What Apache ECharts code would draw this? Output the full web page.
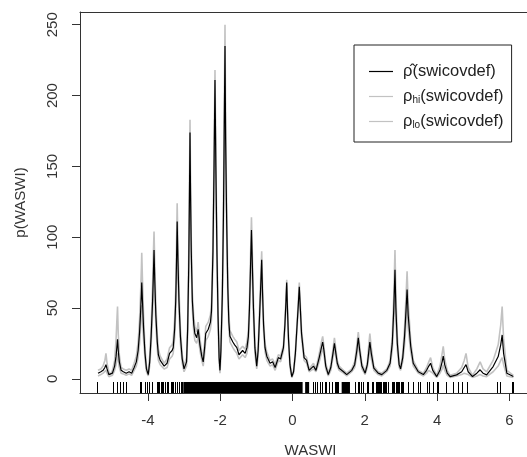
<!DOCTYPE html>
<html><head><meta charset="utf-8">
<script src="https://cdn.jsdelivr.net/npm/echarts@6/dist/echarts.min.js"></script>
<style>html,body{margin:0;padding:0;background:#fff}#c{width:527px;height:457px}</style>
</head><body><div id="c"></div>
<script>
// WASWI grid positions of the estimated density curve
const waswiX = [
 -5.38,-5.30,-5.24,-5.19,-5.16,-5.13,-5.08,-5.04,-4.98,-4.92,
 -4.88,-4.86,-4.84,-4.82,-4.79,-4.74,-4.68,-4.60,-4.52,-4.45,
 -4.38,-4.32,-4.27,-4.23,-4.20,-4.18,-4.17,-4.15,-4.12,-4.08,
 -4.04,-3.99,-3.95,-3.91,-3.87,-3.85,-3.83,-3.81,-3.78,-3.74,
 -3.71,-3.66,-3.62,-3.55,-3.50,-3.47,-3.40,-3.33,-3.30,-3.26,
 -3.23,-3.21,-3.19,-3.17,-3.14,-3.10,-3.05,-3.00,-2.97,-2.93,
 -2.90,-2.87,-2.85,-2.835,-2.82,-2.80,-2.77,-2.73,-2.70,-2.65,
 -2.61,-2.56,-2.51,-2.47,-2.43,-2.40,-2.33,-2.27,-2.24,-2.20,
 -2.17,-2.144,-2.12,-2.09,-2.06,-2.03,-2.006,-1.98,-1.94,-1.91,
 -1.89,-1.867,-1.85,-1.82,-1.79,-1.76,-1.73,-1.65,-1.60,-1.54,
 -1.48,-1.38,-1.31,-1.26,-1.22,-1.19,-1.16,-1.135,-1.11,-1.08,
 -1.04,-0.99,-0.95,-0.91,-0.88,-0.852,-0.83,-0.80,-0.76,-0.71,
 -0.62,-0.55,-0.48,-0.39,-0.33,-0.25,-0.21,-0.18,-0.16,-0.14,
 -0.11,-0.07,-0.02,0.03,0.08,0.12,0.16,0.188,0.22,0.25,
 0.32,0.39,0.46,0.58,0.65,0.74,0.80,0.835,0.87,0.92,
 0.99,1.06,1.12,1.16,1.20,1.24,1.29,1.41,1.50,1.64,
 1.72,1.78,1.82,1.86,1.92,2.01,2.07,2.11,2.14,2.18,
 2.25,2.37,2.47,2.61,2.70,2.76,2.80,2.835,2.86,2.90,
 2.95,2.99,3.05,3.10,3.14,3.17,3.20,3.27,3.34,3.48,
 3.62,3.71,3.77,3.82,3.88,3.99,4.08,4.14,4.17,4.21,
 4.28,4.36,4.54,4.68,4.75,4.80,4.86,4.98,5.10,5.19,
 5.27,5.37,5.55,5.69,5.76,5.80,5.84,5.93,6.11
];
// rho-hat (estimate)
const rhoHat = [
 4,5,6,8,10,7,3,2,4,9,
 16,22,28,20,12,6,5,4,5,4,
 8,12,20,33,48,60,68,55,36,18,
 7,3,12,30,55,72,91,70,45,26,
 17,13,12,9,9,11,18,20,22,35,
 55,80,111,85,55,30,14,7,6,12,
 35,80,130,174,130,90,55,38,32,29,
 35,24,16,12,22,32,35,40,48,90,
 150,211,150,90,45,15,6,20,60,115,
 170,235,170,110,65,40,30,26,24,22,
 17,20,18,22,30,50,80,105,80,50,
 22,9,20,45,65,84,62,38,22,16,
 11,12,8,15,14,22,38,55,68,50,
 28,10,1.5,5,18,35,52,65,48,32,
 15,13,6,9,6,15,22,26,20,9,
 3,8,18,25,18,11,7.5,5,3,6,
 10,20,29,20,9,4,10,19,26,18,
 7.5,4,3,6,11,25,48,77,50,25,
 10,7,15,30,48,63,45,23,11,5,
 3,6,9,11,6,1.6,6,12,16,10,
 4,1.6,2.8,5,8,10,5,1.6,4,6.4,
 4,2.8,8.7,15.7,24,31,18,4,1.6
];
// rho-hi (upper)
const rhoHi = [
 6,7,9,13,18,11,5,3,6,13,
 28,40,51,32,17,8,7,6,7,6,
 11,16,26,42,62,78,89,70,45,22,
 9,4,16,37,66,87,104,82,53,31,
 21,16,15,11,11,14,22,24,27,42,
 63,91,124,96,63,35,17,9,8,15,
 40,88,140,183,140,98,61,43,37,33,
 40,28,19,15,26,37,40,45,54,97,
 157,218,157,96,50,18,8,24,66,124,
 182,250,182,119,71,45,34,30,28,26,
 20,23,21,26,35,56,88,114,88,56,
 26,11,24,50,71,90,68,42,25,19,
 13,14,10,17,16,24,40,57,70,52,
 30,12,2.5,6,20,37,55,68,51,35,
 17,15,7,11,7,18,26,30,23,11,
 4,10,21,29,21,13,9,6,4,7,
 12,24,33,23,11,5,12,24,32,22,
 9,5,4,7,13,30,57,91,60,30,
 12,8,18,36,58,76,54,27,13,6,
 4,8,12,15,8,2.5,9,18,23,14,
 6,2.5,4,8,13,18,8,2.5,7,12,
 7,5,13,24,38,51,28,6,2.5
];
// rho-lo (lower)
const rhoLo = [
 2,3,4,5,6,4,1.5,1,2.5,6,
 10,14,18,13,8,4,3.5,2.5,3.5,2.5,
 6,9,15,25,37,47,52,42,28,14,
 5,2,9,24,46,60,80,60,38,21,
 13,10,9,7,7,8,14,16,18,29,
 47,70,98,74,47,25,11,5,4,9,
 30,72,120,165,120,82,49,33,27,25,
 30,20,13,9,18,27,30,35,42,83,
 143,204,143,84,40,12,4,16,54,106,
 158,220,158,101,59,35,26,22,20,18,
 14,17,15,18,25,44,72,96,72,44,
 18,7,16,40,59,78,56,34,19,13,
 9,10,6,13,12,20,36,53,66,48,
 26,8,0.8,4,16,33,49,62,45,29,
 13,11,5,7,5,12,18,22,17,7,
 2,6,15,21,15,9,6,4,2,5,
 8,16,25,17,7,3,8,15,21,14,
 6,3,2,5,9,20,40,64,41,20,
 8,6,12,24,39,51,36,19,9,4,
 2,4,6,7,4,1,4,7,10,6,
 2.5,1,2,3,4,4,3,1,2,3,
 2,1.5,5,9,13,15,10,2,1
];
// rug: individual observations and fully-covered stretches
const rugTicks = [
 -5.40,-4.97,-4.86,-4.77,-4.68,-4.61,-4.22,-4.19,-4.08,-4.02,-3.96,-3.90,
 -3.76,-3.72,-3.68,-3.65,-3.61,-3.57,-3.52,-3.48,-3.43,-3.37,-3.33,-3.30,
 -3.25,-3.19,-3.13,-3.09,-3.06,
 0.56,0.62,0.69,0.76,0.81,0.90,0.94,1.02,1.08,1.18,1.20,1.22,1.24,1.27,
 1.73,1.82,1.85,1.89,1.96,2.05,2.10,2.19,2.24,
 2.31,2.34,2.37,2.40,2.43,2.46,2.49,2.52,2.56,2.60,2.65,2.74,
 2.79,2.82,2.85,2.88,2.92,2.96,3.00,3.04,3.07,
 3.20,3.32,3.46,3.53,3.71,3.78,3.88,3.99,4.03,4.26,4.45,4.59,4.68,4.82,
 5.65,5.74,6.06,6.11
];
const rugBlocks = [[-3.02, 0.28], [0.35, 0.46], [1.36, 1.59]];
const xTicks = [-4, -2, 0, 2, 4, 6];
const yTicks = [0, 50, 100, 150, 200, 250];

const FONT = 'Liberation Sans, Arial, sans-serif';
const TXT = '#333';
const GRAY = '#c2c2c2';
function pairs(xs, ys) { return xs.map((x, i) => [x, ys[i]]); }

const chart = echarts.init(document.getElementById('c'), null, {renderer: 'canvas'});
const X_MIN = -5.878, X_MAX = 6.487, Y_MIN = -10, Y_MAX = 259;
const LINE_ICON = 'path://M0,0H24V1.2H0Z';

chart.setOption({
  animation: false,
  backgroundColor: '#fff',
  textStyle: {fontFamily: FONT},
  grid: {left: 80, right: 0, top: 12, bottom: 64, containLabel: false, outerBoundsMode: 'none'},
  xAxis: [{
    type: 'value', min: X_MIN, max: X_MAX, position: 'bottom',
    axisLine: {show: true, onZero: false, lineStyle: {color: '#333', width: 1}},
    axisTick: {show: true, length: 8, customValues: xTicks, lineStyle: {color: '#333'}},
    axisLabel: {show: true, customValues: xTicks, margin: 20, fontSize: 15, color: TXT, fontFamily: FONT,
      formatter: v => (v < 0 ? '-' + Math.abs(v) : String(v))},
    splitLine: {show: false},
    name: 'WASWI', nameLocation: 'middle', nameGap: 50,
    nameTextStyle: {fontSize: 15, color: TXT, fontFamily: FONT, padding: [0, 0, 0, 14]}
  }, {
    type: 'value', min: X_MIN, max: X_MAX, position: 'top',
    axisLine: {show: true, onZero: false, lineStyle: {color: '#333', width: 1}},
    axisTick: {show: false}, axisLabel: {show: false}, splitLine: {show: false}
  }],
  yAxis: {
    type: 'value', min: Y_MIN, max: Y_MAX,
    axisLine: {show: true, onZero: false, lineStyle: {color: '#333', width: 1}},
    axisTick: {show: true, length: 8, customValues: yTicks, lineStyle: {color: '#333'}},
    axisLabel: {show: true, customValues: yTicks, rotate: 90, margin: 20, fontSize: 15, color: TXT, fontFamily: FONT},
    splitLine: {show: false},
    name: 'p(WASWI)', nameLocation: 'middle', nameGap: 52,
    nameTextStyle: {fontSize: 15, color: TXT, fontFamily: FONT}
  },
  legend: {
    show: true, orient: 'vertical', left: 354, top: 45,
    data: [
      {name: 'est', icon: LINE_ICON, itemStyle: {color: '#000'}},
      {name: 'hi', icon: LINE_ICON, itemStyle: {color: GRAY}},
      {name: 'lo', icon: LINE_ICON, itemStyle: {color: GRAY}}
    ],
    selectedMode: false,
    borderColor: '#222', borderWidth: 1, borderRadius: 0,
    padding: [18, 8, 12, 15],
    itemWidth: 24, itemHeight: 14, itemGap: 8,
    formatter: n => n === 'est' ? '{r|ρ\u0302}{t|(swicovdef)}' : (n === 'hi' ? '{r|ρ}{s|hi}{t|(swicovdef)}' : '{r|ρ}{s|lo}{t|(swicovdef)}'),
    textStyle: {
      color: '#222', fontFamily: FONT, fontSize: 16.5, padding: [0, 0, 0, 5],
      rich: {
        r: {fontSize: 16.5, fontFamily: FONT, color: '#222'},
        t: {fontSize: 16.5, fontFamily: FONT, color: '#222'},
        s: {fontSize: 10, fontFamily: FONT, color: '#222', verticalAlign: 'bottom'}
      }
    }
  },
  series: [
    {name: 'hi', type: 'line', data: pairs(waswiX, rhoHi), symbol: 'none', smooth: false,
      itemStyle: {color: GRAY}, lineStyle: {color: GRAY, width: 1.6}, z: 2},
    {name: 'lo', type: 'line', data: pairs(waswiX, rhoLo), symbol: 'none', smooth: false,
      itemStyle: {color: GRAY}, lineStyle: {color: GRAY, width: 1.6}, z: 2},
    {name: 'est', type: 'line', data: pairs(waswiX, rhoHat), symbol: 'none', smooth: false,
      itemStyle: {color: '#000'}, lineStyle: {color: '#000', width: 1.2}, z: 3},
    {name: 'rug', type: 'custom', data: rugTicks.map(x => [x]), encode: {x: 0},
      renderItem: (params, api) => {
        const p = api.coord([api.value(0), Y_MIN]);
        const x = Math.round(p[0]) + 0.5;
        return {type: 'line', shape: {x1: x, y1: p[1], x2: x, y2: p[1] - 11},
          style: {stroke: '#000', lineWidth: 1}};
      }, z: 4},
    {name: 'rugBlock', type: 'custom', data: rugBlocks, encode: {x: [0, 1]},
      renderItem: (params, api) => {
        const a = api.coord([api.value(0), Y_MIN]);
        const b = api.coord([api.value(1), Y_MIN]);
        return {type: 'rect', shape: {x: a[0], y: a[1] - 11, width: b[0] - a[0], height: 11},
          style: {fill: '#000'}};
      }, z: 4}
  ]
});
</script>
</body></html>
